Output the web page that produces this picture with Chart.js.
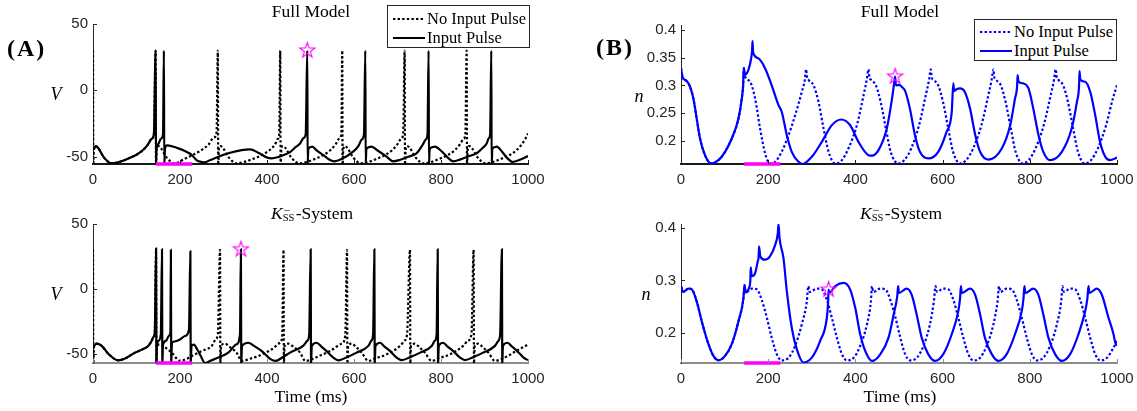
<!DOCTYPE html>
<html>
<head>
<meta charset="utf-8">
<script src="https://cdn.jsdelivr.net/npm/chart.js@4.4.1/dist/chart.umd.min.js"></script>
<style>
  html, body { margin: 0; padding: 0; background: #fff; }
  body { width: 1137px; height: 411px; position: relative; overflow: hidden;
         font-family: "Liberation Serif", "Times New Roman", serif; color: #000; }
  .panel { position: absolute; }
  .panel canvas { display: block; }
  .txt { position: absolute; white-space: nowrap; line-height: 1; z-index: 3; }
  .title { font-size: 17.5px; transform: translate(-50%, -50%); }
  .tag { font-weight: bold; font-size: 24px; letter-spacing: 2px; transform: translateY(-50%); }
  .ylab { font-style: italic; font-size: 18px; transform: translate(-50%, -50%); }
  .kss { position: relative; display: inline-block; width: 13px; height: 17.5px; vertical-align: baseline; }
  .kss .sup { position: absolute; left: 1px; top: 2px; font-size: 12px; line-height: 1; }
  .kss .sub { position: absolute; left: 0; top: 11px; font-size: 10.5px; line-height: 1; }
  .legend { position: absolute; background: #fff; border: 1px solid #262626; box-sizing: border-box;
            width: 143px; z-index: 4; }
  .legend svg { position: absolute; left: 5px; }
  .legend .lt { position: absolute; left: 39px; font-size: 16.5px; line-height: 1;
                transform: translateY(-50%); white-space: nowrap; }
</style>
</head>
<body>

<div class="panel" id="pA1"><canvas></canvas></div>
<div class="panel" id="pA2"><canvas></canvas></div>
<div class="panel" id="pB1"><canvas></canvas></div>
<div class="panel" id="pB2"><canvas></canvas></div>

<div class="txt tag" style="left:7px; top:48px;">(A)</div>
<div class="txt tag" style="left:596px; top:47px;">(B)</div>

<div class="txt title" style="left:311px; top:12px;">Full Model</div>
<div class="txt title" style="left:900px; top:12px;">Full Model</div>
<div class="txt title" style="left:312px; top:212px;"><i>K</i><span class="kss"><span class="sup">&minus;</span><span class="sub">SS</span></span>-System</div>
<div class="txt title" style="left:901px; top:212px;"><i>K</i><span class="kss"><span class="sup">&minus;</span><span class="sub">SS</span></span>-System</div>
<div class="txt title" style="left:311px; top:397px;">Time (ms)</div>
<div class="txt title" style="left:900px; top:397px;">Time (ms)</div>

<div class="txt ylab" style="left:56px; top:94px;">V</div>
<div class="txt ylab" style="left:56px; top:294px;">V</div>
<div class="txt ylab" style="left:639px; top:96px;">n</div>
<div class="txt ylab" style="left:646px; top:294px;">n</div>

<div class="legend" style="left:387px; top:5px; height:43px;">
  <svg width="32" height="4" style="top:11px"><line x1="0" y1="2" x2="32" y2="2" stroke="#000" stroke-width="2" stroke-dasharray="2.4 2.2"/></svg>
  <div class="lt" style="top:13px;">No Input Pulse</div>
  <svg width="32" height="4" style="top:30px"><line x1="0" y1="2" x2="32" y2="2" stroke="#000" stroke-width="2"/></svg>
  <div class="lt" style="top:32px;">Input Pulse</div>
</div>
<div class="legend" style="left:974px; top:19px; height:42px;">
  <svg width="32" height="4" style="top:10px"><line x1="0" y1="2" x2="32" y2="2" stroke="#0000ff" stroke-width="2" stroke-dasharray="2.4 2.2"/></svg>
  <div class="lt" style="top:12px;">No Input Pulse</div>
  <svg width="32" height="4" style="top:29px"><line x1="0" y1="2" x2="32" y2="2" stroke="#0000ff" stroke-width="2"/></svg>
  <div class="lt" style="top:31px;">Input Pulse</div>
</div>

<script>
// ---- axis ticks ----
const timeTicks = [0, 200, 400, 600, 800, 1000];
const vTicks = [-50, 0, 50];
const nTicksFull = [0.2, 0.25, 0.3, 0.35, 0.4];
const nTicksKss = [0.2, 0.3, 0.4];

// input pulse window (ms) and highlighted spikes [time, value]
const pulseWindow = [145, 228];
const starVFull = [492.6, 30];
const starVKss = [340, 30.5];
const starNFull = [491, 0.316];
const starNKss = [338.5, 0.2825];

// ---- membrane potential V, full model ----
const timeVFullNo = [0,0.8,2.5,6,12,25,43,60,80,100,115,127,135,140,
  144,144.8,146.5,150,156,169,188,211,242,265,278,284,
  287,287.8,289.5,293,299,312,330,347,365,395,418,425,428,
  430.5,431.3,433,436.5,442.5,455.5,474,491,511,531,546,558,566,571,
  573,573.8,575.5,579,585,598,616,633,653,673,688,700,708,713,
  716.5,717.3,719,722.5,728.5,741.5,760,777,797,817,832,844,852,856,
  859,859.8,861.5,865,871,884,902,919,939,959,974,986,994,1000];
const vFullNo = [30,-56,-44,-42,-43.5,-50.5,-55,-54,-51.5,-48.5,-45,-40.5,-36.5,-33,
  30,-56,-44,-42,-43.5,-50.5,-55,-51.5,-46.5,-41,-35.5,-32,
  30,-56,-44,-42,-43.5,-50.5,-55,-54,-52,-47.5,-41,-36.5,-33,
  30,-56,-44,-42,-43.5,-50.5,-55,-54,-51.5,-48.5,-45,-40.5,-36.5,-33,
  30,-56,-44,-42,-43.5,-50.5,-55,-54,-51.5,-48.5,-45,-40.5,-36.5,-33,
  30,-56,-44,-42,-43.5,-50.5,-55,-54,-51.5,-48.5,-45,-40.5,-36.5,-33,
  30,-56,-44,-42,-43.5,-50.5,-55,-54,-51.5,-48.5,-45,-40.5,-36.5,-32.5];

const timeVFullIn = [2.5,6,12,25,43,60,80,100,115,127,135,140,
  144,144.8,146,150,156,161,
  163,163.8,165.5,170,185,196,210,219,227,238,250,256,270,288,311,342,361,380,399,411,425,440,453,465,476,484,489,
  492.6,493.4,495,504,515,529,545,555,570,598,610,618,623,
  626,626.8,628.5,640,655,675,690,705,725,744,758,765,769,
  771.5,772.3,774,786,800,815,828,845,865,882,897,905,910,913,
  915.6,916.4,918,928,940,952,965,980,1000];
const vFullIn = [-44,-42,-43.5,-50.5,-55,-54,-51.5,-48.5,-45,-40.5,-36.5,-33,
  30,-56,-44,-40.5,-36.5,-33,
  30,-56,-44,-41.5,-42.5,-43.7,-45.5,-47,-48.7,-52.5,-54,-54.2,-52.5,-50,-47.4,-45,-44.5,-47,-50.5,-51.2,-50.3,-48.5,-46.5,-43,-40,-36,-33,
  30,-56,-44,-42.4,-45.5,-48.7,-52.5,-53.5,-52,-46.2,-42,-37,-33,
  30,-56,-44,-42.4,-45.5,-50,-53.5,-52.5,-50,-47.4,-41,-37,-33,
  30,-56,-44,-42.4,-45.5,-50.5,-53.5,-52,-49.5,-47.4,-43,-40,-36,-33,
  30,-56,-44,-42.4,-46,-51,-54,-52.5,-49.5];

// ---- membrane potential V, K_SS system ----
const timeVKssNo = [0,0.8,2.5,8.4,20,35,58,75,96.5,115,127,135,139,142,
  145,145.8,147.5,154,165,181,200,215,227,250,273,282,287,
  292,292.8,294.5,303.4,315,330,342,360,380,411,430,435,
  438,438.8,440.5,449,462,476,488,505,525,545,571.6,580,
  584,584.8,586.5,594.6,605,617.7,633,650,675,706,716,722,
  728.7,729.5,731,740,750,763,778.6,795,820.7,851,862,870,
  875,875.8,877.5,885.8,896,909,924,940,955,975,1000];
const vKssNo = [30,-57.5,-44,-42.3,-44,-50,-55.1,-53.5,-49.2,-46.5,-44,-40,-37,-33.9,
  31,-57.5,-44,-42.8,-45,-49.2,-55.6,-54,-51.8,-48,-44,-39,-35,
  30,-57.5,-44,-42.3,-45,-49.2,-55.6,-54,-51.8,-46.6,-41.6,-36,
  30,-57.5,-44,-42.3,-45,-49.2,-55.6,-54,-51,-48,-42.3,-36,
  30,-57.5,-44,-42.3,-45,-49.2,-55.6,-53.5,-50.5,-44,-40,-35,
  30,-57.5,-44,-42.3,-45,-49.2,-55.6,-53.5,-50.5,-44,-40,-35,
  30,-57.5,-44,-42.3,-45,-49.2,-55.6,-54,-51.5,-47.5,-43];

const timeVKssIn = [2.5,8.4,20,35,58,75,96.5,115,127,135,139,142,
  145,145.8,147,151,156,
  158.6,159.4,161,168,175,178,
  179,179.8,181.5,184.6,200,211.5,220.7,
  223.8,224.6,226.5,232,240,248,257.5,270,288,311,330,337.9,
  340,340.8,342.5,357,370,388,409,420,435,453,483,493,497,
  500.4,501.2,503,514,525,537,552.5,564,585,606,633,640,644,
  646.8,647.6,649.3,660,670,683,698,710,730,752,778.6,786,790,
  792.4,793.2,795,805,815,828,843.7,855,875,897,924,932,936,
  940,940.8,942.5,953,963,975,990,1000];
const vKssIn = [-44,-42.3,-44,-50,-55.1,-53.5,-49.2,-46.5,-44,-40,-37,-33.9,
  31,-57.5,-44,-40,-35,
  30.5,-57.5,-43,-40,-36,-33,
  30,-57.5,-42,-40.8,-39,-36.4,-31.3,
  29,-57.5,-44,-43,-47,-52,-57.2,-55.5,-53,-49.2,-42.8,-35.2,
  30.5,-57.5,-44,-41.6,-44,-48,-54.4,-55.5,-53,-49.2,-44,-40,-35.2,
  30.5,-57.5,-44,-41.6,-44.5,-48,-53,-55.1,-52.5,-49.2,-44,-40,-35,
  30.5,-57.5,-44,-41.6,-44.5,-48,-53,-55,-52.5,-49.2,-44,-40,-35,
  30.5,-57.5,-44,-41.6,-44.5,-48,-53,-55,-52.5,-49.2,-44,-40,-35,
  30.5,-57.5,-44,-41.6,-44.5,-48,-53,-55];

// ---- gating variable n, full model ----
const timeNFullNo = [0,4,13,20.7,28.5,36,43.6,55,69,86,101,116.4,131.8,139.4,142.5,
  144,146,158.5,170,181.4,193,204,216,231,246.6,261.8,277,284,
  287,289,292.5,304,315.5,327,338.5,353.6,369,384,403.4,418.8,426,
  430,432,436,447,458,470,481,498,512,528,546,561.5,569,
  573,575,579,590,601,613,624,640,654,670,689,705,712.5,
  716.5,718.5,722.5,733.5,744.5,756.5,767.5,783,797.5,813,832,848,855.5,
  859.5,861.5,865.5,876.5,887.5,899.5,910.5,926,940.5,956,975,990,1000];
const nFullNo = [0.331,0.314,0.308,0.2975,0.276,0.24,0.204,0.174,0.159,0.165,0.18,0.204,0.24,0.276,0.30,
  0.331,0.318,0.3065,0.276,0.222,0.177,0.159,0.162,0.18,0.21,0.246,0.288,0.31,
  0.329,0.315,0.31,0.30,0.27,0.222,0.18,0.159,0.165,0.186,0.228,0.2825,0.31,
  0.329,0.315,0.31,0.30,0.27,0.222,0.18,0.159,0.165,0.186,0.228,0.2825,0.31,
  0.329,0.315,0.31,0.30,0.27,0.222,0.18,0.159,0.165,0.186,0.228,0.2825,0.31,
  0.329,0.315,0.31,0.30,0.27,0.222,0.18,0.159,0.165,0.186,0.228,0.2825,0.31,
  0.329,0.315,0.31,0.30,0.27,0.222,0.18,0.159,0.165,0.186,0.228,0.275,0.30];

const timeNFullIn = [0,4,13,20.7,28.5,36,43.6,55,69,86,101,116.4,131.8,139.4,142.5,144,147,151,154.7,160.8,
  163,164,165,166,177.7,193,208,223.6,231,242.7,254,269.5,278.7,300,323,346,367.4,388,407,430,
  438,453,472,484,489,491,493,500,508,514,525,536.6,548,567,590,609,621,624.6,626.5,632,
  640,651,663,675,686,705,735.7,755,766,771,772,774,785,797,808,820,831,846.6,873.5,896,
  908,913,914,916,927,938.5,950,961,973,984,995.6,1000];
const nFullIn = [0.331,0.314,0.308,0.2975,0.276,0.24,0.204,0.174,0.159,0.165,0.18,0.204,0.24,0.276,0.30,0.331,0.3186,0.322,0.3277,0.3486,
  0.362,0.380,0.365,0.3577,0.3486,0.3306,0.300,0.2644,0.2523,0.21,0.18,0.1619,0.158,0.171,0.198,0.2282,0.2384,0.228,0.198,0.174,
  0.173,0.183,0.222,0.276,0.305,0.316,0.30,0.301,0.296,0.29,0.258,0.21,0.18,0.168,0.18,0.216,0.252,0.3035,0.29,0.293,
  0.2944,0.288,0.258,0.21,0.18,0.166,0.186,0.228,0.276,0.30,0.3186,0.307,0.3035,0.2944,0.258,0.21,0.18,0.165,0.18,0.222,
  0.2703,0.30,0.3258,0.31,0.3065,0.2884,0.2463,0.198,0.171,0.165,0.168,0.17];

// ---- gating variable n, K_SS system ----
const timeNKssNo = [0,5.4,17,24.7,36,47.5,63,74.4,86,101,116.4,131.8,143.3,
  145.6,148.6,162,174,185,197,208,219.7,231,246.6,261.8,277,288.6,
  292,295,311.6,323,334.5,346,357.5,369,380.5,396,411,426.4,435.6,
  438,441,457,468.6,480,492,503,514,526,541,556,571,580,
  584,587,601.6,613,624.6,636,647.5,659,670.5,686,701,716.5,726,
  729.5,732.5,747,758.6,770,781.6,793,804.6,816,831,846.6,862,872,
  875,878,892.6,904,915.5,927,938.5,950,961.6,977,992,1000];
const nKssNo = [0.289,0.278,0.2844,0.283,0.26,0.222,0.178,0.1556,0.1473,0.1556,0.178,0.222,0.2667,
  0.291,0.277,0.2844,0.283,0.263,0.2286,0.1905,0.159,0.147,0.152,0.1747,0.2159,0.26,
  0.289,0.278,0.2844,0.283,0.263,0.2286,0.1905,0.159,0.147,0.152,0.1747,0.2159,0.26,
  0.289,0.278,0.2844,0.283,0.263,0.2286,0.1905,0.159,0.147,0.152,0.1747,0.2159,0.26,
  0.289,0.278,0.2844,0.283,0.263,0.2286,0.1905,0.159,0.147,0.152,0.1747,0.2159,0.26,
  0.289,0.278,0.2844,0.283,0.263,0.2286,0.1905,0.159,0.147,0.152,0.1747,0.2159,0.26,
  0.289,0.278,0.2844,0.283,0.263,0.2286,0.1905,0.159,0.147,0.152,0.1714,0.184];

const timeNKssIn = [0,5.4,17,24.7,36,47.5,63,74.4,86,101,116.4,131.8,143.3,145.6,148.6,156,159,160,162,170,
  176,178,179,182,193,204,216,222,223.6,226,235,242.7,254,265.7,281,300,319,334.5,337.5,338.5,
  340,353.6,373,388,399.6,411,422.6,438,457,476,487.7,496,498,500,517.6,529,540.5,552,567,582.5,
  601.6,621,636,640,642,644,663,674.5,686,697,712.7,728,747,766,781.6,785.5,787.6,790,808,819.6,
  831,842.7,858,873.5,892.6,911.6,927,932,934.6,937,953.8,965,980.5,992,996,1000];
const nKssIn = [0.289,0.278,0.2844,0.283,0.26,0.222,0.178,0.1556,0.1473,0.1556,0.178,0.222,0.2667,0.291,0.277,0.2857,0.300,0.325,0.308,0.314,
  0.3365,0.345,0.365,0.346,0.3397,0.346,0.368,0.39,0.4076,0.381,0.343,0.2794,0.2095,0.168,0.143,0.1524,0.184,0.2286,0.26,0.2825,
  0.276,0.289,0.2952,0.2825,0.2476,0.197,0.165,0.146,0.1587,0.1905,0.2349,0.27,0.289,0.276,0.2844,0.273,0.235,0.1905,0.159,0.146,
  0.159,0.197,0.2413,0.265,0.289,0.276,0.2844,0.273,0.235,0.1905,0.159,0.146,0.159,0.197,0.2413,0.265,0.289,0.276,0.2844,0.273,
  0.235,0.1905,0.159,0.146,0.159,0.197,0.2413,0.265,0.289,0.276,0.2844,0.273,0.2286,0.197,0.181,0.175];

// ---- drawing ----
const BLACK = '#000000', BLUE = '#0000ff', MAGENTA = '#ff00ff', AXIS = '#262626';

function pairs(ts, vs) {
  const n = Math.min(ts.length, vs.length);
  const out = [];
  for (let i = 0; i < n; i++) out.push({ x: ts[i], y: vs[i] });
  return out;
}

// five-pointed outline star used as the marker glyph
function starGlyph(color) {
  const c = document.createElement('canvas');
  c.width = 19; c.height = 19;
  const g = c.getContext('2d');
  g.strokeStyle = color; g.lineWidth = 1.1;
  g.beginPath();
  for (let i = 0; i < 10; i++) {
    const r = i % 2 ? 3.1 : 8;
    const a = -Math.PI / 2 + i * Math.PI / 5;
    const px = 9.5 + r * Math.cos(a), py = 9.5 + r * Math.sin(a);
    if (i) g.lineTo(px, py); else g.moveTo(px, py);
  }
  g.closePath(); g.stroke();
  return c;
}
const STAR = starGlyph(MAGENTA);

// short inward tick marks on the left and bottom axes
const inwardTicks = {
  id: 'inwardTicks',
  afterDraw(chart, args, opts) {
    const { ctx, chartArea: a, scales: { x, y } } = chart;
    ctx.save();
    ctx.lineWidth = 1;
    ctx.strokeStyle = opts.xColor || AXIS;
    ctx.beginPath();
    x.ticks.forEach(t => {
      const px = Math.round(x.getPixelForValue(t.value)) + 0.5;
      ctx.moveTo(px, a.bottom); ctx.lineTo(px, a.bottom - 4);
    });
    ctx.stroke();
    ctx.strokeStyle = AXIS;
    ctx.beginPath();
    y.ticks.forEach(t => {
      const py = Math.round(y.getPixelForValue(t.value)) + 0.5;
      ctx.moveTo(a.left, py); ctx.lineTo(a.left + 4, py);
    });
    ctx.stroke();
    ctx.restore();
  }
};

const PAD_L = 60, PAD_T = 30, PAD_R = 32, PAD_B = 30;

function buildPanel(cfg) {
  const wrap = document.getElementById(cfg.id);
  const [left, top, right, bottom] = cfg.area;
  wrap.style.left = (left - PAD_L) + 'px';
  wrap.style.top = (top - PAD_T) + 'px';
  const canvas = wrap.querySelector('canvas');
  canvas.width = (right - left) + PAD_L + PAD_R;
  canvas.height = (bottom - top) + PAD_T + PAD_B;

  const tickFont = { family: '"Liberation Sans", Arial, sans-serif', size: 15 };
  const [yMin, yMax] = cfg.yRange;

  new Chart(canvas, {
    type: 'line',
    data: {
      datasets: [
        { label: 'peak', data: [{ x: cfg.star[0], y: cfg.star[1] }], showLine: false,
          pointStyle: STAR, pointRadius: 6, clip: false, order: 0 },
        { label: 'pulse', data: [{ x: pulseWindow[0], y: yMin }, { x: pulseWindow[1], y: yMin }],
          borderColor: MAGENTA, borderWidth: 3.5, pointRadius: 0, clip: false, order: 1 },
        { label: 'Input Pulse', data: pairs(cfg.inT, cfg.inV), borderColor: cfg.color,
          borderWidth: 2.2, pointRadius: 0, cubicInterpolationMode: 'monotone', order: 2 },
        { label: 'No Input Pulse', data: pairs(cfg.noT, cfg.noV), borderColor: cfg.color,
          borderWidth: 2.2, borderDash: [2.4, 2.2], pointRadius: 0, cubicInterpolationMode: 'monotone', order: 3 }
      ]
    },
    options: {
      responsive: false,
      animation: false,
      devicePixelRatio: 1,
      events: [],
      layout: { padding: { left: 0, top: PAD_T, right: PAD_R, bottom: 0 } },
      plugins: {
        legend: { display: false },
        tooltip: { enabled: false },
        inwardTicks: { xColor: cfg.xAxisColor }
      },
      scales: {
        x: {
          type: 'linear', min: 0, max: 1000,
          grid: { display: false, drawTicks: false },
          border: { display: true, color: cfg.xAxisColor, width: 2 },
          ticks: { padding: 7, color: AXIS, font: tickFont, maxRotation: 0, autoSkip: false,
                   callback: v => String(v) },
          afterBuildTicks: s => { s.ticks = timeTicks.map(v => ({ value: v })); },
          afterFit: s => { s.height = PAD_B; s.paddingLeft = 0; s.paddingRight = 0; }
        },
        y: {
          type: 'linear', min: yMin, max: yMax,
          grid: { display: false, drawTicks: false },
          border: { display: true, color: AXIS, width: 1 },
          ticks: { padding: 5, color: AXIS, font: tickFont, callback: v => String(v) },
          afterBuildTicks: s => { s.ticks = cfg.yTicks.map(v => ({ value: v })); },
          afterFit: s => { s.width = PAD_L; s.paddingTop = 0; s.paddingBottom = 0; }
        }
      }
    },
    plugins: [inwardTicks]
  });
}

buildPanel({ id: 'pA1', area: [93, 24, 528, 164], yRange: [-55.5, 50], yTicks: vTicks,
  noT: timeVFullNo, noV: vFullNo, inT: timeVFullIn, inV: vFullIn, color: BLACK,
  star: starVFull, xAxisColor: '#1a1a1a' });
buildPanel({ id: 'pA2', area: [93, 224, 528, 363], yRange: [-57.2, 50], yTicks: vTicks,
  noT: timeVKssNo, noV: vKssNo, inT: timeVKssIn, inV: vKssIn, color: BLACK,
  star: starVKss, xAxisColor: '#8c8c8c' });
buildPanel({ id: 'pB1', area: [681, 25, 1117, 164], yRange: [0.158, 0.409], yTicks: nTicksFull,
  noT: timeNFullNo, noV: nFullNo, inT: timeNFullIn, inV: nFullIn, color: BLUE,
  star: starNFull, xAxisColor: '#1a1a1a' });
buildPanel({ id: 'pB2', area: [681, 224, 1117, 363], yRange: [0.142, 0.408], yTicks: nTicksKss,
  noT: timeNKssNo, noV: nKssNo, inT: timeNKssIn, inV: nKssIn, color: BLUE,
  star: starNKss, xAxisColor: '#8c8c8c' });
</script>
</body>
</html>
